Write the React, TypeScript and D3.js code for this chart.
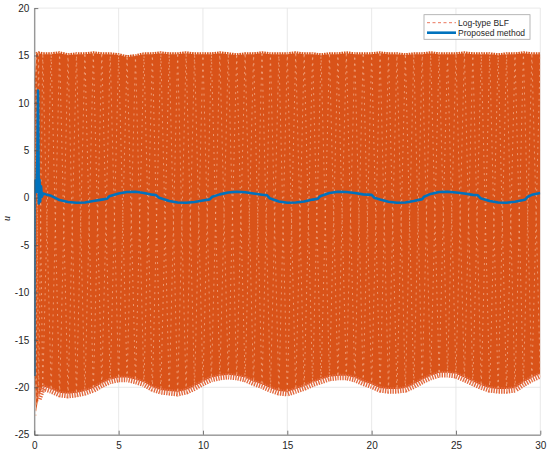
import React, { useEffect, useRef } from 'react';
import * as d3 from 'd3';

// Log-type BLF control input: envelope of the fast oscillation
const blfTime = [
  0.03, 0.1, 0.25, 0.5, 1, 1.5, 2, 2.5, 3, 3.5, 4, 4.5, 5, 5.5, 6, 6.5, 7, 7.5, 8, 8.5, 9, 9.5, 10,
  10.5, 11, 11.5, 12, 12.5, 13, 13.5, 14, 14.5, 15, 15.5, 16, 16.5, 17, 17.5, 18, 18.5, 19, 19.5, 20,
  20.5, 21, 21.5, 22, 22.5, 23, 23.5, 24, 24.5, 25, 25.5, 26, 26.5, 27, 27.5, 28, 28.5, 29, 29.5, 30,
];
const blfUpper = [
  12.5, 15.3, 15.4, 15.3, 15.3, 15.4, 15.2, 15.3, 15.3, 15.4, 15.3, 15.3, 15.2, 15.0, 15.1, 15.3, 15.3, 15.4, 15.3, 15.3, 15.4, 15.3, 15.3,
  15.3, 15.4, 15.3, 15.2, 15.3, 15.3, 15.4, 15.3, 15.3, 15.3, 15.4, 15.3, 15.3, 15.2, 15.3, 15.3, 15.4, 15.3, 15.3, 15.3,
  15.4, 15.3, 15.3, 15.2, 15.3, 15.3, 15.4, 15.3, 15.3, 15.3, 15.4, 15.3, 15.3, 15.3, 15.2, 15.3, 15.3, 15.4, 15.3, 15.3,
];
const blfLower = [
  -19.0, -23.0, -21.5, -20.3, -20.6, -21.0, -21.1, -21.0, -20.8, -20.5, -20.0, -19.6, -19.4, -19.4, -19.6, -19.9, -20.4, -20.7, -20.8, -20.9, -20.7, -20.3, -19.8,
  -19.4, -19.2, -19.1, -19.2, -19.4, -19.8, -20.1, -20.5, -20.8, -20.9, -20.6, -20.3, -19.9, -19.6, -19.3, -19.2, -19.2, -19.4, -19.8, -20.1,
  -20.5, -20.6, -20.6, -20.5, -20.1, -19.6, -19.2, -18.9, -18.9, -19.0, -19.4, -19.8, -20.2, -20.5, -20.6, -20.6, -20.5, -19.9, -19.4, -19.0,
];

// Proposed method control input
const propTime = [
  0, 0.01, 0.05, 0.12, 0.18, 0.22, 0.27, 0.31, 0.35, 0.4, 0.45, 0.52, 0.7, 1.0, 1.5, 2.0, 2.5, 3.0, 3.5, 4.0, 4.3, 4.45,
  5.0, 5.5, 6.0, 6.5, 7.0, 7.2, 7.4, 8.0, 8.5, 9.0, 9.5, 10.0, 10.4, 10.55, 11.0, 11.5, 12.0, 12.5, 13.0, 13.5,
  13.8, 13.95, 14.5, 15.0, 15.5, 16.0, 16.5, 16.8, 16.95, 17.5, 18.0, 18.5, 19.0, 19.5, 20.0, 20.15, 20.5, 21.0,
  21.5, 22.0, 22.5, 23.0, 23.1, 23.5, 24.0, 24.5, 25.0, 25.5, 26.0, 26.3, 26.45, 27.0, 27.5, 28.0, 28.5, 29.0,
  29.1, 29.25, 29.5, 30.0,
];
const propU = [
  -18.8, 1.5, 1.8, 0.6, 4.0, 11.3, -0.6, 1.9, -0.4, 1.2, 0.1, 0.45, 0.35, 0.2, -0.25, -0.45, -0.53, -0.5, -0.35, -0.2, -0.12, 0.15,
  0.45, 0.6, 0.62, 0.5, 0.32, 0.28, 0.0, -0.35, -0.5, -0.53, -0.45, -0.3, -0.18, 0.1, 0.35, 0.55, 0.63, 0.58, 0.45, 0.32,
  0.25, -0.05, -0.4, -0.53, -0.5, -0.4, -0.2, -0.12, 0.15, 0.5, 0.63, 0.6, 0.5, 0.35, 0.3, 0.0, -0.2, -0.42,
  -0.53, -0.5, -0.35, -0.15, 0.1, 0.4, 0.6, 0.63, 0.55, 0.45, 0.3, 0.25, -0.05, -0.35, -0.5, -0.53, -0.42, -0.25,
  -0.2, 0.1, 0.3, 0.5,
];

const xTicks = [0, 5, 10, 15, 20, 25, 30];
const yTicks = [-25, -20, -15, -10, -5, 0, 5, 10, 15, 20];
const legendLabels = ['Log-type BLF', 'Proposed method'];

export default function App() {
  const svgRef = useRef<SVGSVGElement>(null);

  useEffect(() => {
    if (!svgRef.current) return;
    document.body.style.margin = '0';

    const svg = d3.select(svgRef.current);
    svg.selectAll('*').remove();

    const W = 550, H = 453;
    const left = 34.3, right = 540.3, top = 8.1, bottom = 434.7;

    const x = d3.scaleLinear().domain([0, 30]).range([left, right]);
    const y = d3.scaleLinear().domain([-25, 20]).range([bottom, top]);

    svg.attr('width', W).attr('height', H);
    svg.append('rect').attr('width', W).attr('height', H).attr('fill', '#fff');

    // grid
    const grid = svg.append('g').attr('stroke', '#e3e3e3').attr('stroke-width', 0.8);
    grid.selectAll('line.gx')
      .data(xTicks)
      .enter()
      .append('line')
      .attr('x1', (d) => x(d)).attr('x2', (d) => x(d))
      .attr('y1', top).attr('y2', bottom);
    grid.selectAll('line.gy')
      .data(yTicks)
      .enter()
      .append('line')
      .attr('x1', left).attr('x2', right)
      .attr('y1', (d) => y(d)).attr('y2', (d) => y(d));

    const clip = svg.append('defs').append('clipPath').attr('id', 'plotclip');
    clip.append('rect').attr('x', left).attr('y', top).attr('width', right - left).attr('height', bottom - top);

    const plot = svg.append('g').attr('clip-path', 'url(#plotclip)');

    // Log-type BLF: dense oscillation drawn as band + ragged edges + dashed zigzag
    const idx = blfTime.map((_, i) => i);
    const band = d3.area<number>()
      .x((i) => x(blfTime[i]))
      .y0((i) => y(blfLower[i]) - 4)
      .y1((i) => y(blfUpper[i]) + 1.5);
    plot.append('path')
      .attr('d', band(idx) as string)
      .attr('fill', '#D95319');

    // ragged lower fringe (sparser, lighter dashes)
    const lowEdge = d3.line<number>()
      .x((i) => x(blfTime[i]))
      .y((i) => y(blfLower[i]) - 2.6);
    plot.append('path')
      .attr('d', lowEdge(idx.slice(2)) as string)
      .attr('fill', 'none')
      .attr('stroke', '#E2693F')
      .attr('stroke-width', 6.5)
      .attr('stroke-dasharray', '1.4,1.1');

    // ragged upper edge
    const topEdge = d3.line<number>()
      .x((i) => x(blfTime[i]))
      .y((i) => y(blfUpper[i]) + 0.8);
    plot.append('path')
      .attr('d', topEdge(idx.slice(1)) as string)
      .attr('fill', 'none')
      .attr('stroke', '#D95319')
      .attr('stroke-width', 2.4)
      .attr('stroke-dasharray', '1.6,0.9');

    const zig: [number, number][] = [];
    const zag: [number, number][] = [];
    idx.forEach((i) => {
      const hi: [number, number] = [x(blfTime[i]), y(blfUpper[i])];
      const lo: [number, number] = [x(blfTime[i]), y(blfLower[i])];
      zig.push(i % 2 === 0 ? hi : lo);
      zag.push(i % 2 === 0 ? lo : hi);
    });
    const line2 = d3.line();
    [zig, zag].forEach((pts) => {
      plot.append('path')
        .attr('d', line2(pts) as string)
        .attr('fill', 'none')
        .attr('stroke', '#F4B593')
        .attr('stroke-width', 0.7)
        .attr('stroke-dasharray', '2,4');
    });

    // Proposed method
    const propLine = d3.line<number>()
      .x((i) => x(propTime[i]))
      .y((i) => y(propU[i]));
    plot.append('path')
      .attr('d', propLine(propTime.map((_, i) => i)) as string)
      .attr('fill', 'none')
      .attr('stroke', '#0072BD')
      .attr('stroke-width', 2.6)
      .attr('stroke-linejoin', 'round');

    // axes
    const axisColor = '#555';
    const gx = svg.append('g')
      .attr('transform', `translate(0,${bottom})`)
      .call(d3.axisBottom(x).tickValues(xTicks).tickSize(-4).tickSizeOuter(0).tickPadding(7));
    const gy = svg.append('g')
      .attr('transform', `translate(${left},0)`)
      .call(d3.axisLeft(y).tickValues(yTicks).tickSize(-4).tickSizeOuter(0).tickPadding(5));
    [gx, gy].forEach((g) => {
      g.select('.domain').attr('stroke', axisColor).attr('stroke-width', 0.8);
      g.selectAll('.tick line').attr('stroke', axisColor).attr('stroke-width', 0.8);
      g.selectAll('.tick text')
        .attr('fill', '#262626')
        .style('font-family', '"Liberation Sans", Arial, sans-serif')
        .style('font-size', '10px');
    });
    gy.selectAll('.tick text').text((d: any) => String(d));

    // y label
    svg.append('text')
      .attr('transform', `translate(10,${y(-2.2)}) rotate(-90)`)
      .attr('text-anchor', 'middle')
      .style('font-family', '"Liberation Serif", "Times New Roman", serif')
      .style('font-style', 'italic')
      .style('font-size', '10px')
      .attr('fill', '#262626')
      .text('u');

    // legend
    const lg = svg.append('g').attr('transform', 'translate(424,14.7)');
    lg.append('rect')
      .attr('width', 106).attr('height', 24.6)
      .attr('fill', '#fff')
      .attr('stroke', '#a6a6a6')
      .attr('stroke-width', 0.8);
    const rows = lg.selectAll('g.row')
      .data(legendLabels)
      .enter()
      .append('g')
      .attr('transform', (_, i) => `translate(0,${8 + i * 10})`);
    rows.append('line')
      .attr('x1', 3).attr('x2', 32)
      .attr('stroke', (_, i) => (i === 0 ? '#E8674A' : '#0072BD'))
      .attr('stroke-width', (_, i) => (i === 0 ? 0.9 : 2.6))
      .attr('stroke-dasharray', (_, i) => (i === 0 ? '3,2.5' : null));
    rows.append('text')
      .attr('x', 34)
      .attr('dy', '0.35em')
      .style('font-family', '"Liberation Sans", Arial, sans-serif')
      .style('font-size', '8.5px')
      .attr('fill', '#262626')
      .text((d) => d);
  }, []);

  return (
    <div style={{ position: 'absolute', left: 0, top: 0 }}>
      <svg ref={svgRef} />
    </div>
  );
}
